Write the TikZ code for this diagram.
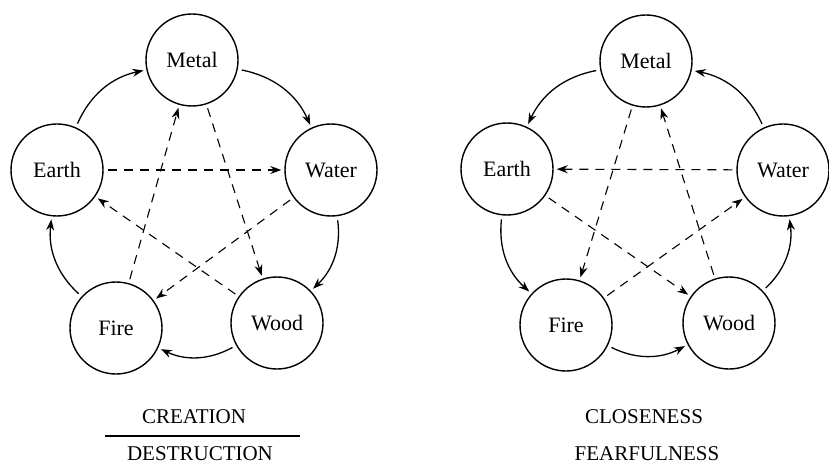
\documentclass[tikz,border=0pt]{standalone}
\usepackage{fontspec}
\setmainfont{Liberation Serif}
\usetikzlibrary{arrows.meta}

\begin{document}
\begin{tikzpicture}[x=1pt, y=1pt,
    element/.style={draw, circle, line width=1.4pt, minimum size=92pt, inner sep=0pt, font=\fontsize{22}{26}\selectfont},
    flow/.style={-{Stealth[length=11pt, width=8pt]}, line width=1.3pt, shorten <=4pt, shorten >=3pt},
    cross/.style={-{Stealth[length=11pt, width=8pt]}, line width=1.1pt, dash pattern=on 9pt off 7pt, shorten <=4pt, shorten >=3pt},
    caption/.style={anchor=base, font=\fontsize{21}{25}\selectfont},
  ]
  \useasboundingbox (0,0) rectangle (829,464);

  % Creation / destruction cycle
  \node[element] (metal1) at (192,404) {Metal};
  \node[element] (earth1) at (57,294)  {Earth};
  \node[element] (water1) at (331,294) {Water};
  \node[element] (fire1)  at (116,136) {Fire};
  \node[element] (wood1)  at (277,141) {Wood};

  \draw[flow] (metal1) to[bend left=27] (water1);
  \draw[flow] (water1) to[bend left=27] (wood1);
  \draw[flow] (wood1)  to[bend left=27] (fire1);
  \draw[flow] (fire1)  to[bend left=27] (earth1);
  \draw[flow] (earth1) to[bend left=27] (metal1);

  \draw[cross] (earth1) -- (water1);
  \draw[cross] (water1) -- (fire1);
  \draw[cross] (fire1)  -- (metal1);
  \draw[cross] (metal1) -- (wood1);
  \draw[cross] (wood1)  -- (earth1);

  % Closeness / fearfulness cycle
  \node[element] (metal2) at (646,403) {Metal};
  \node[element] (earth2) at (507,295) {Earth};
  \node[element] (water2) at (783,294) {Water};
  \node[element] (fire2)  at (566,139) {Fire};
  \node[element] (wood2)  at (729,141) {Wood};

  \draw[flow] (metal2) to[bend right=27] (earth2);
  \draw[flow] (earth2) to[bend right=27] (fire2);
  \draw[flow] (fire2)  to[bend right=27] (wood2);
  \draw[flow] (wood2)  to[bend right=27] (water2);
  \draw[flow] (water2) to[bend right=27] (metal2);

  \draw[cross] (water2) -- (earth2);
  \draw[cross] (earth2) -- (wood2);
  \draw[cross] (wood2)  -- (metal2);
  \draw[cross] (metal2) -- (fire2);
  \draw[cross] (fire2)  -- (water2);

  % Captions
  \node[caption] (creation) at (194,41) {CREATION};
  \node[caption] (destruction) at (200,4) {DESTRUCTION};
  \coordinate (barL) at (105,28);
  \coordinate (barR) at (300,28);
  \draw[line width=2pt] (barL) -- (barR);
  \node[caption] (closeness) at (644,41) {CLOSENESS};
  \node[caption] (fearfulness) at (647,4) {FEARFULNESS};
\end{tikzpicture}
\end{document}
